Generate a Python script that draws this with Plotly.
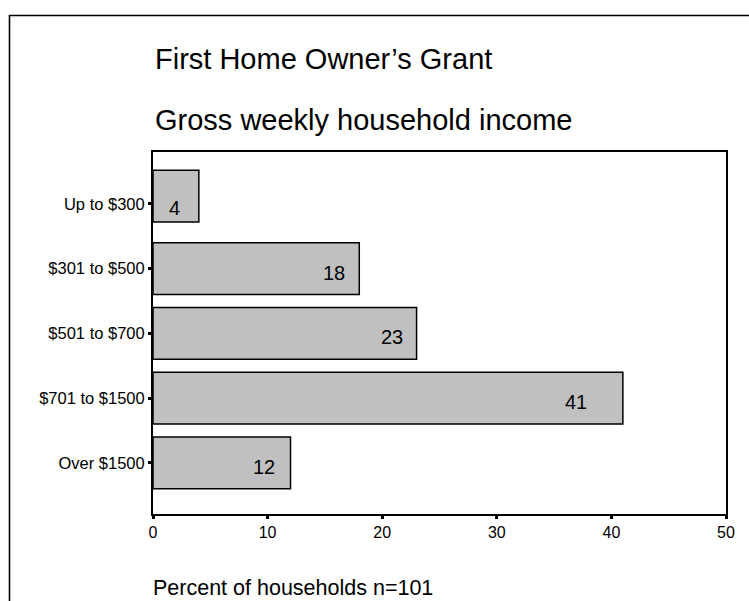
import plotly.graph_objects as go

# Survey data: gross weekly household income of grant recipients
categories = ["Up to $300", "$301 to $500", "$501 to $700", "$701 to $1500", "Over $1500"]
percents = [4, 18, 23, 41, 12]
x_ticks = [0, 10, 20, 30, 40, 50]

title_line1 = "First Home Owner\u2019s Grant"
title_line2 = "Gross weekly household income"
x_title = "Percent of households n=101"

FONT = "Liberation Sans, Arial, sans-serif"
W, H = 749, 601
ML, MR, MT, MB = 153, 23, 152, 87
plot_h = H - MT - MB
plot_w = W - ML - MR


def py(px):
    """Convert a pixel row (from top) to paper y."""
    return (H - MB - px) / plot_h


def pxx(px):
    """Convert a pixel column to paper x."""
    return (px - ML) / plot_w


bar_width = 0.8
# the top bar sits slightly higher than its tick
offsets = [-bar_width / 2 - 0.12] + [-bar_width / 2] * (len(categories) - 1)

fig = go.Figure()
fig.add_trace(go.Bar(
    x=percents,
    y=categories,
    orientation="h",
    width=bar_width,
    offset=offsets,
    marker=dict(color="#c0c0c0", line=dict(color="black", width=1.5)),
    hoverinfo="x+y",
    showlegend=False,
))

# value labels inside the bar ends
label_shift = [-24, -25, -25, -47, -27]
for cat, val, dx in zip(categories, percents, label_shift):
    fig.add_annotation(
        x=val, y=cat, xref="x", yref="y",
        text=str(val), showarrow=False,
        xanchor="center", yanchor="middle",
        xshift=dx, yshift=-4,
        font=dict(family=FONT, size=20, color="black"),
    )

# titles
for txt, cy in [(title_line1, 59), (title_line2, 120)]:
    fig.add_annotation(
        x=pxx(153), y=py(cy), xref="paper", yref="paper",
        text=txt, showarrow=False, xanchor="left", yanchor="middle",
        font=dict(family=FONT, size=29, color="black"),
    )

fig.add_annotation(
    x=pxx(151), y=py(588), xref="paper", yref="paper",
    text=x_title, showarrow=False, xanchor="left", yanchor="middle",
    font=dict(family=FONT, size=21.5, color="black"),
)

# outer frame, open past the right and bottom edges
fig.add_shape(
    type="rect", xref="paper", yref="paper",
    x0=pxx(9.5), x1=pxx(W + 20), y0=py(H + 20), y1=py(15.5),
    line=dict(color="black", width=1.6), fillcolor="rgba(0,0,0,0)",
    layer="above",
)

fig.update_xaxes(
    range=[0, 50],
    tickvals=x_ticks,
    ticktext=[str(v) for v in x_ticks],
    ticks="outside", ticklen=3, tickwidth=3, tickcolor="black",
    showline=True, linecolor="black", linewidth=2, mirror=True,
    showgrid=False, zeroline=False,
    tickfont=dict(family=FONT, size=16, color="black"),
)
fig.update_yaxes(
    type="category",
    categoryorder="array", categoryarray=categories,
    range=[4.79, -0.80],
    ticks="outside", ticklen=3, tickwidth=3, tickcolor="black",
    showline=True, linecolor="black", linewidth=2, mirror=True,
    showgrid=False, zeroline=False,
    tickfont=dict(family=FONT, size=16.5, color="black"),
)

fig.update_layout(
    width=W, height=H,
    margin=dict(l=ML, r=MR, t=MT, b=MB, pad=0),
    plot_bgcolor="white", paper_bgcolor="white",
    bargap=0.2,
)

fig.write_html("out.html")
